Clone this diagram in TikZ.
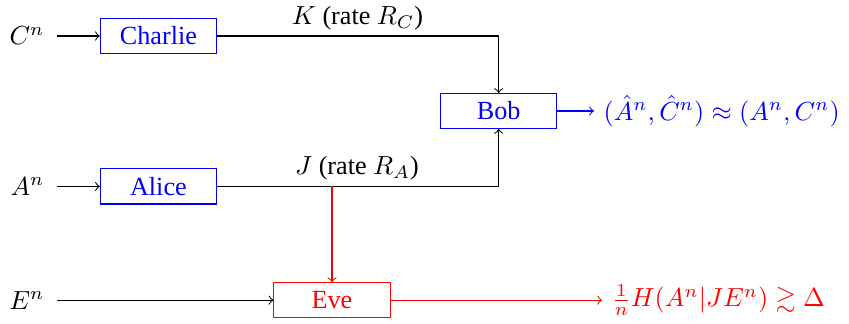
\documentclass[tikz,border=0pt]{standalone}
\usepackage{amsmath,amssymb}
\usepackage[no-math]{fontspec}
\setmainfont{Liberation Serif}
\begin{document}
\begin{tikzpicture}[x=0.3824pt,y=-0.3824pt,
  font=\fontsize{10}{12}\selectfont,
  party/.style={draw, minimum width=44.4pt, minimum height=13.4pt, inner sep=0pt, line width=0.4pt},
  bluebox/.style={party, draw=blue, text=blue},
  redbox/.style={party, draw=red, text=red},
  srclabel/.style={inner xsep=4.6pt, inner ysep=0pt},
  outlabel/.style={anchor=west, inner xsep=3.5pt, inner ysep=0pt},
  link/.style={line width=0.4pt}]
\useasboundingbox (0,0) rectangle (849,324);

\node[bluebox] (charlie) at (158.4,36) {Charlie};
\node[bluebox] (alice) at (158.4,186.5) {Alice};
\node[bluebox] (bob) at (498.7,111) {Bob};
\node[redbox] (eve) at (332,300.2) {Eve};

\node[srclabel, anchor=east] (cn) at (57,36) {$C^n$};
\node[srclabel, anchor=east] (an) at (57,186.5) {$A^n$};
\node[srclabel, anchor=east] (en) at (57,300.2) {$E^n$};

\node[anchor=base] (klab) at (357.5,25) {$K$ (rate $R_C$)};
\node[anchor=base] (jlab) at (357,175) {$J$ (rate $R_A$)};

\node[outlabel, text=blue] (bobout) at (594,111) {$(\hat{A}^n,\hat{C}^n)\approx(A^n,C^n)$};
\node[outlabel, text=red] (eveout) at (602,300.2) {$\frac{1}{n}H(A^n|JE^n)\gtrsim\Delta$};

\coordinate (tap) at (eve.north |- alice.east);

\draw[link,->] (cn) -- (charlie);
\draw[link,->] (an) -- (alice);
\draw[link,->] (en) -- (eve);
\draw[link,->] (charlie) -| (bob);
\draw[link,->] (alice) -| (bob);
\draw[link,->,red] (tap) -- (eve);
\draw[link,->,blue] (bob) -- (bobout);
\draw[link,->,red] (eve) -- (eveout);
\end{tikzpicture}
\end{document}
